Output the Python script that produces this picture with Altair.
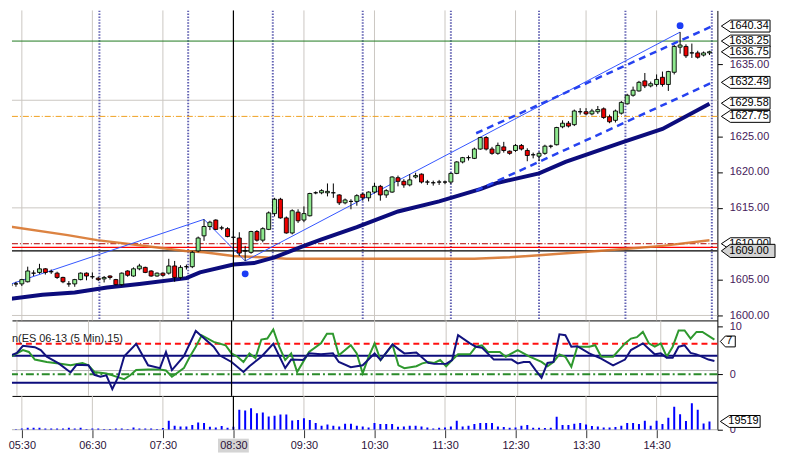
import altair as alt
import pandas as pd

# ------------------------------------------------------------------ data
BARS = list(range(120))
OPEN = [1604.1,1604.4,1604.4,1604.7,1605.9,1606.0,1606.5,1606.1,1605.9,1605.3,
        1604.4,1604.4,1605.0,1605.9,1605.4,1605.2,1605.1,1605.5,1605.0,1604.3,
        1606.2,1605.5,1606.5,1606.7,1606.2,1605.5,1605.9,1605.9,1606.9,1605.3,
        1606.8,1606.8,1609.0,1611.1,1612.4,1613.3,1612.2,1612.1,1610.9,1610.8,
        1609.0,1608.8,1611.7,1610.5,1612.0,1614.2,1616.2,1613.6,1611.5,1614.4,
        1613.3,1613.9,1617.1,1617.1,1617.1,1617.1,1616.8,1615.7,1615.9,1615.9,
        1616.9,1616.4,1617.2,1618.0,1616.8,1617.2,1619.2,1618.7,1618.2,1619.3,
        1619.7,1618.6,1618.5,1618.6,1618.6,1618.6,1619.8,1621.4,1622.0,1621.9,
        1623.2,1624.8,1623.2,1622.6,1623.5,1622.9,1623.0,1623.7,1623.0,1622.4,
        1622.2,1622.6,1623.6,1623.8,1626.3,1626.8,1626.6,1628.4,1628.4,1628.1,
        1628.4,1628.8,1627.7,1627.2,1628.2,1629.5,1630.7,1631.3,1632.7,1632.0,
        1632.2,1633.2,1632.2,1633.9,1637.4,1637.5,1636.6,1636.6,1636.3,1636.6]
HIGH = [1604.7,1604.7,1605.1,1606.8,1606.3,1607.2,1606.6,1606.4,1606.1,1605.4,
        1604.8,1605.1,1606.0,1606.0,1606.0,1605.4,1605.5,1605.6,1605.1,1606.0,
        1606.3,1606.7,1607.2,1606.8,1606.3,1606.0,1606.0,1607.9,1607.6,1607.0,
        1607.1,1609.0,1611.0,1613.4,1613.2,1613.4,1612.5,1612.3,1611.8,1611.6,
        1609.7,1611.8,1611.9,1612.3,1614.5,1616.4,1616.4,1613.8,1614.8,1614.8,
        1615.2,1617.1,1617.3,1617.6,1618.4,1618.4,1616.9,1616.3,1616.2,1616.9,
        1617.1,1617.3,1618.5,1618.2,1617.6,1619.4,1619.5,1619.0,1619.7,1619.9,
        1619.8,1618.9,1618.8,1618.9,1618.8,1619.9,1621.5,1622.1,1622.3,1623.4,
        1624.9,1625.0,1623.5,1624.1,1624.2,1623.0,1623.9,1623.9,1623.3,1622.7,
        1622.8,1623.8,1623.8,1626.3,1627.2,1627.1,1628.7,1628.9,1628.9,1628.8,
        1629.2,1629.0,1628.0,1628.7,1629.9,1630.9,1631.9,1632.7,1633.8,1632.6,
        1633.6,1634.0,1634.1,1637.7,1639.5,1637.8,1637.9,1636.9,1636.8,1636.9]
LOW = [1603.2,1604.0,1604.1,1604.6,1605.5,1605.8,1605.7,1605.8,1605.1,1604.5,
       1604.0,1604.0,1604.9,1604.9,1605.1,1604.8,1604.6,1605.0,1604.2,1604.1,
       1605.4,1605.4,1606.3,1605.9,1605.4,1605.4,1605.4,1605.7,1604.7,1605.0,
       1606.4,1606.6,1608.8,1610.4,1611.9,1611.9,1611.9,1610.9,1610.6,1608.3,
       1607.6,1608.6,1610.3,1610.2,1611.9,1613.8,1613.5,1611.4,1611.3,1612.9,
       1613.0,1613.8,1616.9,1616.9,1616.6,1616.4,1615.4,1615.5,1614.8,1615.3,
       1616.0,1615.9,1617.0,1616.0,1616.4,1617.1,1618.0,1617.8,1618.0,1619.1,
       1618.4,1618.2,1618.1,1618.2,1618.3,1618.3,1619.7,1621.2,1621.6,1621.8,
       1623.1,1623.0,1622.4,1622.4,1622.7,1622.4,1622.8,1623.0,1621.5,1621.9,
       1621.5,1622.4,1623.3,1623.7,1626.1,1626.2,1626.4,1628.0,1627.9,1627.9,
       1628.1,1627.4,1626.8,1626.9,1628.0,1629.4,1630.5,1631.2,1631.7,1631.8,
       1631.9,1631.9,1631.3,1633.6,1636.5,1635.9,1635.9,1635.8,1636.1,1636.3]
CLOSE = [1604.4,1604.4,1605.0,1606.2,1605.9,1606.5,1606.0,1606.1,1605.3,1604.7,
         1604.4,1605.0,1605.9,1605.5,1605.4,1605.0,1605.3,1605.3,1604.3,1605.9,
         1605.6,1606.5,1606.9,1606.0,1605.5,1605.9,1605.6,1606.9,1605.3,1606.7,
         1606.8,1608.8,1610.8,1612.4,1613.0,1612.0,1612.2,1611.0,1610.9,1608.7,
         1609.0,1611.7,1610.5,1612.1,1614.3,1616.2,1613.6,1611.5,1614.6,1613.2,
         1614.2,1617.0,1617.1,1617.4,1617.3,1617.1,1615.7,1616.1,1615.9,1616.7,
         1616.4,1617.2,1618.0,1616.8,1617.4,1619.3,1618.7,1618.2,1618.9,1619.5,
         1618.6,1618.6,1618.5,1618.6,1618.6,1619.8,1621.4,1622.0,1622.0,1623.2,
         1624.8,1623.2,1622.6,1623.7,1623.0,1622.6,1623.7,1623.2,1622.3,1622.4,
         1622.6,1623.6,1623.6,1626.2,1626.8,1626.4,1628.5,1628.4,1628.1,1628.5,
         1628.7,1627.6,1627.0,1628.5,1629.7,1630.7,1631.4,1632.5,1632.0,1632.3,
         1632.9,1632.2,1634.0,1637.5,1637.7,1636.2,1636.6,1636.0,1636.6,1636.75]
VOLUME = [800,800,3136,4700,4700,4700,3136,3136,3136,3136,
          4700,3136,4700,1500,3136,3136,1500,1500,3136,3136,
          1500,5500,3136,3136,3136,1500,3900,21200,9400,7840,
          7840,11000,17250,15700,7060,5500,8600,4700,7060,47000,
          45500,51000,39200,40800,31400,33000,36100,36100,22000,22700,
          27400,22700,15700,9400,12500,9400,7840,14100,14100,9400,
          7840,5500,15700,13300,13300,13300,7060,7840,9400,9400,
          7840,5500,3136,4700,5500,7840,21200,7840,9400,13300,
          15700,15700,15700,7840,6270,4700,5500,9400,11000,4700,
          4700,3900,4700,30600,11000,11000,14100,15700,12500,8600,
          7840,5500,5500,6270,9400,15700,15700,13300,21200,9400,
          21200,13300,28200,54100,36800,20400,62700,47000,14900,19519]

HOUR_LABELS = ["05:30", "06:30", "07:30", "08:30", "09:30",
               "10:30", "11:30", "12:30", "13:30", "14:30"]
HOUR_BARS = [2, 14, 26, 38, 50, 62, 74, 86, 98, 110]
CROSS_BAR = [38]
CYCLE_BARS = [-0.17, 15.2, 30.3, 44.7, 60.0, 75.0, 90.0, 104.7, 119.4]
GRID_PRICES = [1600, 1615, 1630]
PRICE_TICKS = [1600, 1605, 1615, 1620, 1625, 1635]

MA_NAVY_BARS = [-0.17, 5.5, 11, 16.5, 22, 30, 32.3, 38, 41.5, 45, 50, 53, 59,
                66, 73, 80, 83, 90, 94.5, 104, 111, 119]
MA_NAVY_VALS = [1602.3, 1602.9, 1603.2, 1603.9, 1604.4, 1605.2, 1606.0, 1607.1,
                1607.3, 1608.1, 1609.7, 1610.6, 1612.3, 1614.5, 1615.9, 1617.6,
                1618.5, 1619.8, 1621.4, 1624.1, 1626.0, 1629.5]
MA_ORANGE_BARS = [-0.17, 9.8, 14.8, 22, 29.8, 33, 38, 43, 47, 79, 85, 90,
                  100, 105, 111, 119]
MA_ORANGE_VALS = [1612.4, 1611.2, 1610.5, 1609.8, 1609.0, 1608.8, 1608.3,
                  1608.1, 1607.9, 1607.9, 1608.1, 1608.4, 1609.0, 1609.3,
                  1609.7, 1610.5]
ZIGZAG_BARS = [-0.17, 33, 40, 114]
ZIGZAG_VALS = [1604.3, 1613.4, 1607.6, 1639.5]
CHANNEL_BARS = [79.3, 119.5]
CHANNEL_UPPER = [1625.4, 1640.34]
CHANNEL_LOWER = [1617.4, 1632.49]
DOT_BARS = [40, 114]
DOT_VALS = [1605.8, 1640.4]

LEVEL_GREEN = [1638.25]
LEVEL_ORANGE = [1627.75]
LEVEL_DARKRED = [1610.0]
LEVEL_RED = [1609.5]
LEVEL_BLACK = [1609.0]

TAG_VALS = [1640.34, 1638.25, 1636.75, 1632.49, 1629.58, 1627.75, 1610.00]
TAG_TEXT = ["1640.34", "1638.25", "1636.75", "1632.49", "1629.58", "1627.75", "1610.00"]
GRAY_TAG_VAL = [1609.00]
GRAY_TAG_TEXT = ["1609.00"]

OSC_NAVY_BARS = [0,1,2,3,5,6,7,9,11,12,14,15,16,17,18,19,20,22,24,26,27,28,30,32,33,
                 35,36,38,40,41,43,45,47,48,50,51,53,55,56,58,60,62,63,65,66,67,69,
                 71,72,74,75,76,78,79,80,82,84,85,86,87,88,89,90,91,92,93,94,95,96,
                 98,100,102,104,105,107,109,110,111,112,113,114,115,116,118,119]
OSC_NAVY_VALS = [3.5,4.0,4.5,6.0,5.7,5.1,3.7,2.3,0.4,2.0,1.9,-0.1,-0.5,-0.2,-3.1,-0.5,
                 3.8,6.4,1.9,1.3,4.7,0.9,3.8,9.1,8.0,5.8,4.0,2.6,0.5,1.7,3.7,6.4,1.3,
                 3.1,3.0,4.4,4.2,4.4,2.6,1.5,1.9,4.4,3.0,6.3,5.3,4.4,4.6,2.4,2.2,2.2,
                 3.0,8.2,6.5,5.8,5.6,3.1,3.1,3.1,2.3,2.6,2.6,0.9,-0.7,2.4,2.6,8.4,8.2,
                 5.8,5.9,4.4,3.3,1.9,3.1,5.1,6.5,4.2,4.4,3.5,3.5,5.8,6.1,4.5,4.2,3.1,2.8]
OSC_GREEN_BARS = [0,2,3,4,5,7,9,11,13,14,15,17,18,20,21,22,24,26,27,28,30,31,32,33,
                  35,37,38,39,40,41,42,43,44,45,46,47,48,49,51,53,54,55,56,58,59,60,
                  61,62,63,65,66,67,69,70,71,72,73,74,75,76,78,79,80,81,83,84,86,88,
                  90,91,92,93,94,95,96,98,99,100,102,104,105,106,107,108,109,110,111,
                  112,113,114,115,116,117,119]
OSC_GREEN_VALS = [3.0,4.4,5.1,4.7,3.1,2.6,2.3,1.9,2.4,1.9,0.5,0.2,-0.2,-1.0,-0.2,0.9,
                  1.0,1.0,0.8,-0.5,1.3,3.7,5.8,8.2,6.8,6.1,4.4,3.7,2.6,4.4,3.4,7.3,
                  7.5,9.4,5.8,3.0,4.4,0.5,4.7,6.5,8.5,8.5,4.0,6.1,4.4,0.2,3.7,6.5,
                  3.0,6.2,1.9,1.3,1.7,2.3,2.6,2.4,3.0,1.7,3.0,4.2,4.2,5.8,6.1,4.7,
                  4.7,3.7,5.1,3.7,2.6,1.7,2.6,4.2,3.7,1.6,5.8,5.8,6.1,3.7,3.7,6.5,
                  7.5,7.8,8.9,6.5,5.8,6.5,3.7,5.8,9.2,9.2,7.5,8.9,8.9,7.3]
OSC_RED_LEVEL = [6.4]
OSC_NAVY_LEVELS = [3.9, -1.75]
OSC_GRAY_LEVEL = [0.8]
OSC_GREEN_LEVEL = [0.0]
OSC_TICKS = [0, 10]
OSC_TAG_VAL = [6.9]
OSC_TAG_TEXT = ["7"]
OSC_TITLE = ["n(ES 06-13 (5 Min),15)"]
VOL_BASE = [0]
VOL_TAG_VAL = [19519]
VOL_TAG_TEXT = ["19519"]

# ------------------------------------------------------------------ layout / style
W, PH, OH, VH = 710, 312, 76, 34
X_DOMAIN = [1.1667, 119.5]
P_DOMAIN = [1599.31, 1642.52]
O_DOMAIN = [-4.52, 11.31]
V_DOMAIN = [0, 80000]
FONT = "Liberation Sans"
LBL = "#45195a"
GREEN = "#8fe88f"
RED = "#ee0000"
GRID = "#cbc7c2"

TAG_SHAPE = "M -1 0 L -0.63 -0.245 L 1 -0.245 L 1 0.245 L -0.63 0.245 Z"
GRAY_TAG_SHAPE = "M -1 0 L -0.67 -0.245 L 1 -0.245 L 1 0.245 L -0.67 0.245 Z"
VOL_TAG_SHAPE = "M -1 0 L -0.55 -0.3 L 1 -0.3 L 1 0.3 L -0.55 0.3 Z"
OSC_TAG_SHAPE = "M -1 0 L -0.33 -0.73 L 1 -0.73 L 1 0.73 L -0.33 0.73 Z"
BOX_SHAPE = "M -1 -0.45 L 1 -0.45 L 1 0.45 L -1 0.45 Z"

xs = alt.Scale(domain=X_DOMAIN, nice=False, zero=False)
ps = alt.Scale(domain=P_DOMAIN, nice=False, zero=False)
os_ = alt.Scale(domain=O_DOMAIN, nice=False, zero=False)
vs = alt.Scale(domain=V_DOMAIN, nice=False)


def df(**cols):
    return pd.DataFrame(cols)


def right_axis(values, fmt):
    return alt.Axis(orient="right", values=values, format=fmt, labelFont=FONT, labelFontSize=11,
                    labelColor=LBL, tickColor="black", tickSize=5, labelPadding=7,
                    domainColor="black", domainWidth=1, grid=False, title=None)


border_x = alt.Axis(orient="bottom", labels=False, ticks=False, domain=True,
                    domainColor="black", domainWidth=1, grid=False, title=None)

label_expr = ("[" + ",".join(f"'{s}'" for s in HOUR_LABELS) + "][indexof(["
              + ",".join(str(b) for b in HOUR_BARS) + "], datum.value)]")
vol_x_axis = alt.Axis(orient="bottom", values=HOUR_BARS, labelExpr=label_expr, labelFont=FONT,
                      labelFontSize=11, labelColor="#2b1238", tickColor="#333333", tickSize=8,
                      labelPadding=2, domain=False, grid=False, title=None, zindex=1)

price_y_axis = right_axis(PRICE_TICKS, ".2f")
osc_y_axis = right_axis(OSC_TICKS, "d")
vol_y_axis = right_axis([0], "d")


def make_x(axis):
    def X(field="bar"):
        return alt.X(f"{field}:Q", scale=xs, axis=axis)
    return X


def make_y(scale, axis):
    def Y(field):
        return alt.Y(f"{field}:Q", scale=scale, axis=axis)
    return Y


# ------------------------------------------------------------------ price panel
Xp = make_x(border_x)
Yp = make_y(ps, price_y_axis)


def hline(vals, color, width=1, dash=None):
    kw = dict(color=color, strokeWidth=width)
    if dash:
        kw["strokeDash"] = dash
    return alt.Chart(df(p=vals)).mark_rule(**kw).encode(y=Yp("p"))


candles = df(bar=BARS, o=OPEN, h=HIGH, l=LOW, c=CLOSE, v=VOLUME)
channel = pd.concat([df(bar=CHANNEL_BARS, p=CHANNEL_UPPER, s=["u", "u"]),
                     df(bar=CHANNEL_BARS, p=CHANNEL_LOWER, s=["l", "l"])])

p_layers = [
    alt.Chart(df(bar=HOUR_BARS)).mark_rule(color=GRID, strokeWidth=1).encode(x=Xp()),
    alt.Chart(df(p=GRID_PRICES)).mark_rule(color=GRID, strokeWidth=1).encode(y=Yp("p")),
    alt.Chart(df(bar=CYCLE_BARS)).mark_rule(color="#6464b4", strokeWidth=2, strokeDash=[1.5, 1.5], clip=True).encode(x=Xp()),
    hline(LEVEL_GREEN, "#1f7a1f"),
    hline(LEVEL_ORANGE, "#f0a020", 1, [6, 2, 1, 2]),
    hline(LEVEL_DARKRED, "#b00000", 1, [6, 2, 1, 2]),
    hline(LEVEL_RED, "#ff0000", 1.2),
    hline(LEVEL_BLACK, "#000000", 1.2),
    alt.Chart(df(bar=MA_ORANGE_BARS, p=MA_ORANGE_VALS)).mark_line(color="#d8762e", strokeWidth=2.5, opacity=0.9, clip=True).encode(x=Xp(), y=Yp("p")),
    alt.Chart(df(bar=MA_NAVY_BARS, p=MA_NAVY_VALS)).mark_line(color="#0c0c7c", strokeWidth=4, clip=True).encode(x=Xp(), y=Yp("p")),
    alt.Chart(df(bar=ZIGZAG_BARS, p=ZIGZAG_VALS)).mark_line(color="#3355ff", strokeWidth=1, clip=True).encode(x=Xp(), y=Yp("p")),
    alt.Chart(channel).mark_line(color="#2642f0", strokeWidth=2.5, strokeDash=[7, 5], clip=True).encode(x=Xp(), y=Yp("p"), detail="s:N"),
    alt.Chart(df(bar=CROSS_BAR)).mark_rule(color="black", strokeWidth=1.2).encode(x=Xp()),
    alt.Chart(candles).mark_rule(color="black", strokeWidth=1, clip=True).encode(x=Xp(), y=Yp("l"), y2="h:Q"),
    alt.Chart(candles).mark_bar(size=4, stroke="black", strokeWidth=0.9, clip=True).encode(
        x=Xp(), y=Yp("o"), y2="c:Q",
        fill=alt.condition("datum.c >= datum.o", alt.value(GREEN), alt.value(RED))),
    alt.Chart(df(bar=DOT_BARS, p=DOT_VALS)).mark_circle(size=48, color="#1c3cf5", opacity=1).encode(x=Xp(), y=Yp("p")),
    alt.Chart(df(p=TAG_VALS)).mark_point(shape=TAG_SHAPE, size=49 ** 2, filled=True, fill="white",
                                         stroke="black", strokeWidth=1, opacity=1).encode(x=alt.value(W + 28.5), y=Yp("p")),
    alt.Chart(df(p=TAG_VALS, t=TAG_TEXT)).mark_text(align="left", baseline="middle", font=FONT, fontSize=11,
                                                     color="black").encode(x=alt.value(W + 12), y=Yp("p"), text="t:N"),
    alt.Chart(df(p=GRAY_TAG_VAL)).mark_point(shape=GRAY_TAG_SHAPE, size=54 ** 2, filled=True, fill="#d3d3d3",
                                             stroke="black", strokeWidth=1, opacity=1).encode(x=alt.value(W + 31), y=Yp("p")),
    alt.Chart(df(p=GRAY_TAG_VAL, t=GRAY_TAG_TEXT)).mark_text(align="left", baseline="middle", font=FONT, fontSize=11,
                                                              color="black").encode(x=alt.value(W + 12), y=Yp("p"), text="t:N"),
]
price = alt.layer(*p_layers).properties(width=W, height=PH)

# ------------------------------------------------------------------ oscillator panel
Xo = make_x(border_x)
Yo = make_y(os_, osc_y_axis)


def ohline(vals, color, width, dash=None):
    kw = dict(color=color, strokeWidth=width)
    if dash:
        kw["strokeDash"] = dash
    return alt.Chart(df(v=vals)).mark_rule(**kw).encode(y=Yo("v"))


o_layers = [
    alt.Chart(df(bar=HOUR_BARS)).mark_rule(color=GRID, strokeWidth=1).encode(x=Xo()),
    ohline(OSC_GRAY_LEVEL, "#b4b4b4", 1),
    ohline(OSC_GREEN_LEVEL, "#2a8a2a", 2, [8, 3, 2, 3]),
    ohline(OSC_NAVY_LEVELS, "#0c0c7c", 2),
    ohline(OSC_RED_LEVEL, "#ff1010", 2, [6, 4]),
    alt.Chart(df(bar=OSC_GREEN_BARS, v=OSC_GREEN_VALS)).mark_line(color="#2e982e", strokeWidth=2, clip=True).encode(x=Xo(), y=Yo("v")),
    alt.Chart(df(bar=OSC_NAVY_BARS, v=OSC_NAVY_VALS)).mark_line(color="#12127e", strokeWidth=2, clip=True).encode(x=Xo(), y=Yo("v")),
    alt.Chart(df(bar=CROSS_BAR)).mark_rule(color="black", strokeWidth=1.2).encode(x=Xo()),
    alt.Chart(df(v=OSC_TAG_VAL)).mark_point(shape=OSC_TAG_SHAPE, size=15 ** 2, filled=True, fill="white",
                                            stroke="black", strokeWidth=1, opacity=1).encode(x=alt.value(W + 10.5), y=Yo("v")),
    alt.Chart(df(v=OSC_TAG_VAL, t=OSC_TAG_TEXT)).mark_text(align="left", baseline="middle", font=FONT, fontSize=11,
                                                            color="black").encode(x=alt.value(W + 9), y=Yo("v"), text="t:N"),
    alt.Chart(df(t=OSC_TITLE)).mark_text(align="left", baseline="middle", font=FONT, fontSize=11,
                                         color="#222222").encode(x=alt.value(0), y=alt.value(19), text="t:N"),
]
osc = alt.layer(*o_layers).properties(width=W, height=OH)

# ------------------------------------------------------------------ volume panel
Xv = make_x(vol_x_axis)
Yv = make_y(vs, vol_y_axis)

v_layers = [
    alt.Chart(df(bar=CROSS_BAR)).mark_point(shape=BOX_SHAPE, size=31 ** 2, filled=True, fill="#d4d4d4",
                                            strokeWidth=0, opacity=1).encode(x=Xv(), y=alt.value(VH + 16)),
    alt.Chart(df(bar=HOUR_BARS)).mark_rule(color=GRID, strokeWidth=1).encode(x=Xv()),
    alt.Chart(df(v=VOL_BASE)).mark_rule(color="#b4b4b4", strokeWidth=1).encode(y=Yv("v")),
    alt.Chart(candles).mark_bar(size=2, color="#0000ff", clip=True).encode(x=Xv(), y=Yv("v")),
    alt.Chart(df(bar=CROSS_BAR)).mark_rule(color="black", strokeWidth=1.2).encode(x=Xv()),
    alt.Chart(df(v=VOL_TAG_VAL)).mark_point(shape=VOL_TAG_SHAPE, size=40 ** 2, filled=True, fill="white",
                                            stroke="black", strokeWidth=1, opacity=1).encode(x=alt.value(W + 23), y=Yv("v")),
    alt.Chart(df(v=VOL_TAG_VAL, t=VOL_TAG_TEXT)).mark_text(align="left", baseline="middle", font=FONT, fontSize=11,
                                                            color="black").encode(x=alt.value(W + 11), y=Yv("v"), text="t:N"),
]
vol = alt.layer(*v_layers).properties(width=W, height=VH)

chart = (
    alt.vconcat(price, osc, vol, spacing=0, bounds="flush")
    .properties(padding=0, background="white")
    .configure_view(stroke=None)
)

chart.save("out.html", embed_options={"renderer": "svg", "actions": False})
